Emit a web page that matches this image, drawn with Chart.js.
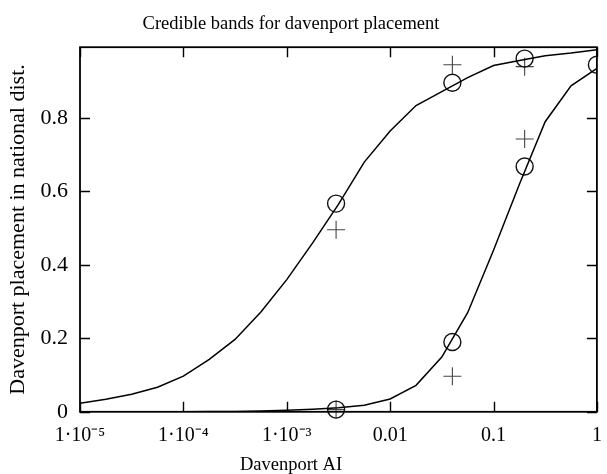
<!DOCTYPE html>
<html>
<head>
<meta charset="utf-8">
<script src="https://cdn.jsdelivr.net/npm/chart.js@4.4.0/dist/chart.umd.min.js"></script>
<style>
  html, body { margin: 0; padding: 0; background: #fff; }
  #wrap { width: 607px; height: 474px; }
</style>
</head>
<body>
<div id="wrap"><canvas id="mainChart" width="607" height="474"></canvas></div>
<script>
// Curve sample points (quarter decades from 1e-5 to 1)
const xGrid = [1e-5, 1.78e-5, 3.16e-5, 5.62e-5, 1e-4, 1.78e-4, 3.16e-4, 5.62e-4,
               1e-3, 1.78e-3, 3.16e-3, 5.62e-3, 0.01, 0.0178, 0.0316, 0.0562,
               0.1, 0.178, 0.316, 0.562, 1];
const upperCurve = [0.023, 0.034, 0.048, 0.067, 0.097, 0.143, 0.197, 0.272,
                    0.36, 0.46, 0.565, 0.68, 0.765, 0.834, 0.872, 0.91,
                    0.943, 0.957, 0.97, 0.977, 0.986];
const lowerCurve = [0.0, 0.0, 0.0, 0.0, 0.0, 0.001, 0.001, 0.002,
                    0.004, 0.007, 0.011, 0.018, 0.035, 0.072, 0.149, 0.27,
                    0.44, 0.62, 0.79, 0.888, 0.935];

// Markers
const circleX = [0.003, 0.04, 0.2, 0.003, 0.04, 0.2, 1];
const circleY = [0.567, 0.896, 0.962, 0.006, 0.19, 0.668, 0.945];
const plusX = [0.003, 0.04, 0.2, 0.003, 0.04, 0.2];
const plusY = [0.496, 0.945, 0.94, 0.006, 0.097, 0.743];

// Axis ticks
const xTicks = [1e-5, 1e-4, 1e-3, 0.01, 0.1, 1];
const xTickLabels = ['1\u00B710\u207B\u2075', '1\u00B710\u207B\u2074', '1\u00B710\u207B\u00B3', '0.01', '0.1', '1'];
const yTicks = [0, 0.2, 0.4, 0.6, 0.8];
const yTickLabels = ['0', '0.2', '0.4', '0.6', '0.8'];

const X_TITLE = 'Davenport AI';
const FONT = "'Liberation Serif', 'Times New Roman', serif";

function pts(xs, ys){
  return xs.map((x, i) => ({ x: x, y: ys[i] }));
}

// inward ticks + frame, like the original plot
const framePlugin = {
  id: 'frame',
  afterLayout(chart){
    // title and x label are centred a bit left of the canvas centre in the original
    chart.boxes.forEach(b => {
      if(b === chart.titleBlock || (b.options && b.options.text === X_TITLE)) b.right = 582;
    });
  },
  afterDraw(chart){
    const { ctx, chartArea: a, scales } = chart;
    ctx.save();
    ctx.strokeStyle = '#000';
    ctx.lineWidth = 1.4;
    const L = 10;
    xTicks.forEach(v => {
      const px = Math.round(scales.x.getPixelForValue(v)) + 0.5;
      ctx.beginPath();
      ctx.moveTo(px, a.bottom); ctx.lineTo(px, a.bottom - L);
      ctx.moveTo(px, a.top); ctx.lineTo(px, a.top + L);
      ctx.stroke();
    });
    yTicks.forEach(v => {
      const py = Math.round(scales.y.getPixelForValue(v)) + 0.5;
      ctx.beginPath();
      ctx.moveTo(a.left, py); ctx.lineTo(a.left + L, py);
      ctx.moveTo(a.right, py); ctx.lineTo(a.right - L, py);
      ctx.stroke();
    });
    ctx.lineWidth = 1.8;
    ctx.strokeRect(a.left, a.top, a.right - a.left, a.bottom - a.top);
    ctx.restore();
  }
};

const ctx = document.getElementById('mainChart').getContext('2d');
const chart = new Chart(ctx, {
  type: 'line',
  data: {
    datasets: [
      {
        label: 'upper',
        data: pts(xGrid, upperCurve),
        borderColor: '#000',
        borderWidth: 1.5,
        pointRadius: 0,
        tension: 0,
        fill: false
      },
      {
        label: 'lower',
        data: pts(xGrid, lowerCurve),
        borderColor: '#000',
        borderWidth: 1.5,
        pointRadius: 0,
        tension: 0,
        fill: false
      },
      {
        label: 'circles',
        data: pts(circleX, circleY),
        showLine: false,
        pointStyle: 'circle',
        pointRadius: 8.5,
        pointBorderWidth: 1.4,
        pointBorderColor: '#111',
        pointBackgroundColor: 'rgba(0,0,0,0)',
        clip: { left: false, top: false, right: 0, bottom: false }
      },
      {
        label: 'plus',
        data: pts(plusX, plusY),
        showLine: false,
        pointStyle: 'cross',
        pointRadius: 9,
        pointBorderWidth: 1.1,
        pointBorderColor: '#444',
        clip: false
      }
    ]
  },
  options: {
    responsive: false,
    animation: false,
    events: [],
    layout: { padding: { left: 0, right: 0, top: 0, bottom: 0 } },
    plugins: {
      legend: { display: false },
      tooltip: { enabled: false },
      title: {
        display: true,
        text: 'Credible bands for davenport placement',
        color: '#000',
        font: { family: FONT, size: 18.5, weight: 'normal' },
        padding: { top: 13, bottom: 12 }
      },
      // x-axis label, placed as a bottom subtitle so it centres like the original
      subtitle: {
        display: true,
        position: 'bottom',
        text: X_TITLE,
        color: '#000',
        font: { family: FONT, size: 18.5, weight: 'normal' },
        padding: { top: 0, bottom: -2 }
      }
    },
    scales: {
      x: {
        type: 'logarithmic',
        min: 1e-5,
        max: 1,
        afterBuildTicks: (s) => { s.ticks = xTicks.map(v => ({ value: v })); },
        afterFit: (s) => { s.height = 42; s.paddingLeft = 0; s.paddingRight = 9; },
        grid: { display: false, drawTicks: false },
        border: { display: false },
        ticks: {
          color: '#000',
          padding: 12,
          maxRotation: 0,
          autoSkip: false,
          font: { family: FONT, size: 20 },
          callback: (v) => {
            const i = xTicks.findIndex(t => Math.abs(Math.log10(t) - Math.log10(v)) < 1e-6);
            return i >= 0 ? xTickLabels[i] : '';
          }
        }
      },
      y: {
        min: 0,
        max: 0.993,
        afterBuildTicks: (s) => { s.ticks = yTicks.map(v => ({ value: v })); },
        afterFit: (s) => { s.width = 80; },
        grid: { display: false, drawTicks: false },
        border: { display: false },
        ticks: {
          color: '#000',
          padding: 12,
          font: { family: FONT, size: 22 },
          callback: (v) => {
            const i = yTicks.indexOf(v);
            return i >= 0 ? yTickLabels[i] : '';
          }
        },
        title: {
          display: true,
          text: 'Davenport placement in national dist.',
          color: '#000',
          font: { family: FONT, size: 22 },
          padding: { top: 5, bottom: 0 }
        }
      }
    }
  },
  plugins: [framePlugin]
});
</script>
</body>
</html>
